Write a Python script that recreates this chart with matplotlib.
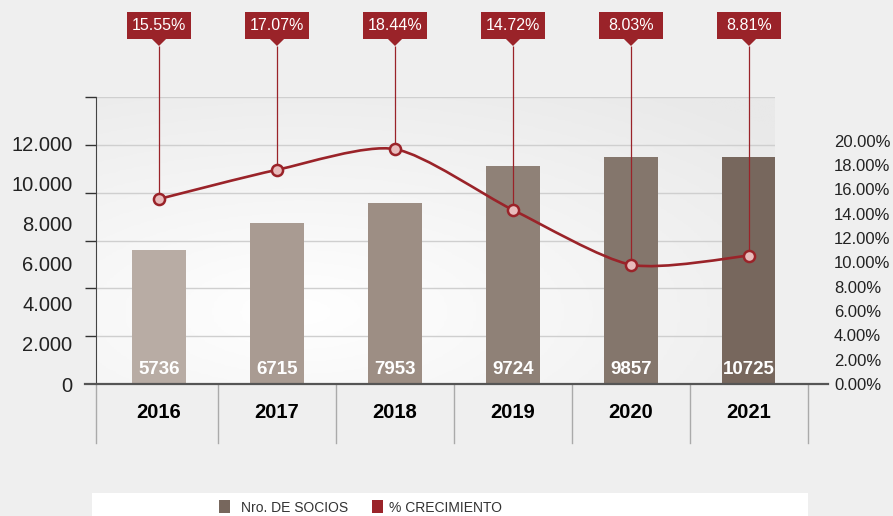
import numpy as np
import matplotlib
matplotlib.use("Agg")
import matplotlib.pyplot as plt
from matplotlib.patches import Rectangle, Polygon, PathPatch
from matplotlib.path import Path

plt.rcParams['font.family'] = ['Liberation Sans', 'DejaVu Sans']

years = ["2016", "2017", "2018", "2019", "2020", "2021"]
socios_bar = [5600, 6740, 7570, 9130, 9490, 9490]      # bar heights as drawn
socios_lbl = ["5736", "6715", "7953", "9724", "9857", "10725"]
crec_pts = [15.2, 17.6, 19.3, 14.3, 9.8, 10.55]        # marker heights as drawn
crec_lbl = ["15.55%", "17.07%", "18.44%", "14.72%", "8.03%", "8.81%"]
left_ticks = [0, 2000, 4000, 6000, 8000, 10000, 12000]
left_lbls = ["0", "2.000", "4.000", "6.000", "8.000", "10.000", "12.000"]
right_ticks = [0, 2, 4, 6, 8, 10, 12, 14, 16, 18, 20]

bar_colors = ["#b8aca4", "#a99b92", "#9d8e84", "#8f8177", "#84766c", "#77675d"]
red = "#9a2329"
W, H = 893, 516

fig = plt.figure(figsize=(W/100, H/100), dpi=100)
fig.patch.set_facecolor("#efefef")
ax = fig.add_axes([96/W, (H-384)/H, (775-96)/W, (384-97)/H])
ax.set_facecolor("none")

# gradient background of plot area
gx, gy = np.meshgrid(np.linspace(0, 1, 200), np.linspace(0, 1, 200))
dist = np.clip(np.sqrt((gx-0.3)**2 + (gy-0.25)**2)/0.95, 0, 1)
ax.imshow(dist, extent=[0, 1, 0, 1], transform=ax.transAxes, aspect='auto',
          cmap=matplotlib.colors.LinearSegmentedColormap.from_list("g", ["#ffffff", "#e9e9e9"]),
          vmin=0, vmax=1, zorder=0, origin='lower')

x = np.arange(len(years))
ax.set_xlim((96-159)/118, (775-159)/118)
ax.set_ylim(0, 12000)

ax.bar(x, socios_bar, width=0.466, color=bar_colors, zorder=2)
for xi, t in zip(x, socios_lbl):
    ax.text(xi, (384-370)/287, t, transform=ax.get_xaxis_transform(), ha='center', va='center',
            color='white', fontsize=13.5, fontweight='bold', zorder=5)
for xi, t in zip(x, years):
    ax.text(xi, -(412-384)/287, t, transform=ax.get_xaxis_transform(), ha='center', va='center',
            color='black', fontsize=14.5, fontweight='bold')

# grid + ticks (labels sit on a tighter spacing than the grid)
ax.set_yticks(left_ticks, minor=True)
ax.set_yticks([v*40/47.83 for v in left_ticks], left_lbls)
ax.tick_params(axis='y', which='major', length=0, pad=17, labelsize=14.5, labelcolor='#222')
ax.tick_params(axis='y', which='minor', length=8, width=1, color='#333')
ax.grid(axis='y', which='minor', color='#cfcfcf', lw=1, zorder=1)
ax.set_xticks([])
for s in ['top', 'right', 'bottom']:
    ax.spines[s].set_visible(False)
ax.spines['left'].set_color('#444')
ax.spines['left'].set_zorder(3)

# bottom baseline and category separators
ax.plot([(85-96)/679, (828-96)/679], [0, 0], transform=ax.transAxes, color='#555', lw=1.6,
        clip_on=False, zorder=4)
for b in [ax.get_xlim()[0]] + list(x[:-1]+0.5) + [5.5]:
    ax.plot([b, b], [0, -(443-384)/287], transform=ax.get_xaxis_transform(), color='#aaaaaa',
            lw=1, clip_on=False)

# percentage axis
ax2 = ax.twinx()
ax2.set_ylim(0, (384-97)/12.17)
ax2.set_yticks(right_ticks, [f"{v:.2f}%" for v in right_ticks])
ax2.tick_params(axis='y', length=0, pad=42.5, labelsize=12, labelcolor='#222')
for s in ax2.spines.values():
    s.set_visible(False)

# smoothed line (cardinal spline -> cubic Bezier)
pts = np.column_stack([x, crec_pts]).astype(float)
verts = [pts[0]]
codes = [Path.MOVETO]
k = 0.75
for i in range(len(pts)-1):
    p0 = pts[max(i-1, 0)]
    p1, p2 = pts[i], pts[i+1]
    p3 = pts[min(i+2, len(pts)-1)]
    verts += [p1 + k*(p2-p0)/6, p2 - k*(p3-p1)/6, p2]
    codes += [Path.CURVE4]*3
ax2.add_patch(PathPatch(Path(verts, codes), fill=False, edgecolor=red, lw=1.9, zorder=3))

top_leader = 1.178*ax2.get_ylim()[1]
ax2.vlines(x, crec_pts, top_leader, color=red, lw=0.9, clip_on=False, zorder=2)
ax2.plot(x, crec_pts, 'o', ms=8, mfc='#e8bcbc', mec=red, mew=1.8, zorder=4, clip_on=False)

tr = ax2.get_xaxis_transform()
for xi, t in zip(x, crec_lbl):
    ax2.add_patch(Rectangle((xi-0.267, (384-39)/287), 0.534, 27/287, transform=tr,
                            facecolor=red, edgecolor='none', clip_on=False))
    ax2.add_patch(Polygon([[xi-0.06, (384-39)/287], [xi+0.06, (384-39)/287], [xi, (384-46)/287]],
                          transform=tr, facecolor=red, edgecolor='none', clip_on=False))
    ax2.text(xi, (384-25.5)/287, t, transform=tr, ha='center', va='center', color='white',
             fontsize=11.5)

# legend band
fig.patches.append(Rectangle((92/W, 0), (808-92)/W, 23/H, transform=fig.transFigure,
                             facecolor='white', edgecolor='none'))
fig.patches.append(Rectangle((219/W, 3/H), 11/W, 13/H, transform=fig.transFigure,
                             facecolor='#77675d', edgecolor='none'))
fig.text(241/W, 8/H, "Nro. DE SOCIOS", fontsize=10, color='#333', va='center')
fig.patches.append(Rectangle((372/W, 3/H), 11/W, 13/H, transform=fig.transFigure,
                             facecolor=red, edgecolor='none'))
fig.text(389/W, 8/H, "% CRECIMIENTO", fontsize=10, color='#333', va='center')

fig.savefig("out.png", dpi=100, facecolor=fig.get_facecolor())
